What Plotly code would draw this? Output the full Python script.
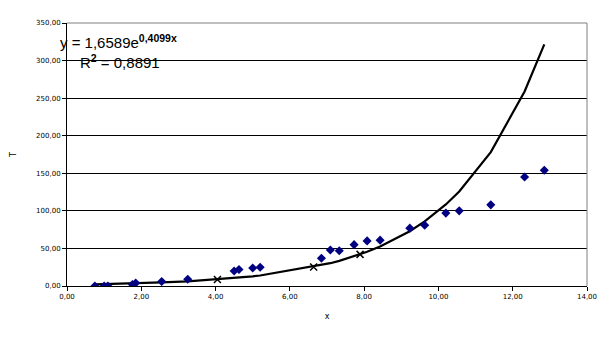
import numpy as np
import plotly.graph_objects as go

# Data
x_vals = [0.75, 1.00, 1.10, 1.76, 1.85, 2.55, 3.25, 4.50, 4.63, 5.00, 5.20,
          6.85, 7.09, 7.33, 7.73, 8.08, 8.43, 9.23, 9.63, 10.20, 10.56, 11.41, 12.32, 12.85]
t_vals = [0.0, 0.0, 0.0, 2.0, 4.0, 6.0, 9.0, 20.0, 22.0, 24.0, 25.0,
          37.0, 48.0, 47.0, 55.0, 60.0, 61.0, 77.0, 81.0, 97.0, 100.0, 108.0, 145.0, 154.0]

# Trendline coefficients (as displayed on the chart)
coef_a = 1.6589
coef_b = 0.4099
r2 = 0.8891
cross_x = [4.05, 6.64, 7.89]

x_ticks = [0, 2, 4, 6, 8, 10, 12, 14]
y_ticks = [0, 50, 100, 150, 200, 250, 300, 350]

xs = np.array(x_vals)
trend_y = coef_a * np.exp(coef_b * xs)
cx = np.array(cross_x)
cross_y = coef_a * np.exp(coef_b * cx)

fig = go.Figure()
fig.add_trace(go.Scatter(x=xs, y=trend_y, mode="lines",
                         line=dict(color="black", width=2.2), showlegend=False))
fig.add_trace(go.Scatter(x=cx, y=cross_y, mode="markers",
                         marker=dict(symbol="x-thin", size=7, line=dict(color="black", width=1.5)),
                         showlegend=False))
fig.add_trace(go.Scatter(x=x_vals, y=t_vals, mode="markers",
                         marker=dict(symbol="diamond", size=7, color="#000080"),
                         showlegend=False))

tick_font = dict(family="DejaVu Sans", size=7, color="black")

eq_text = "y = {}e<sup><b>{}x</b></sup>".format(
    f"{coef_a:.4f}".replace(".", ","), f"{coef_b:.4f}".replace(".", ","))
r2_text = "R<sup><b>2</b></sup> = {}".format(f"{r2:.4f}".replace(".", ","))

fig.update_layout(
    width=613, height=339,
    margin=dict(l=62, r=26, t=23, b=53),
    paper_bgcolor="white", plot_bgcolor="white",
    separators=",.",
    xaxis=dict(range=[0, 14], tickvals=x_ticks, tickformat=".2f",
               showgrid=False, zeroline=False, showline=True, linecolor="black", linewidth=1,
               ticks="outside", ticklen=4, tickcolor="black", tickfont=tick_font,
               title=dict(text="x", font=dict(family="DejaVu Sans", size=8, color="black"), standoff=12)),
    yaxis=dict(range=[0, 350], tickvals=y_ticks, tickformat=".2f",
               showgrid=True, gridcolor="black", gridwidth=1, zeroline=False,
               showline=True, linecolor="black", linewidth=1,
               ticks="outside", ticklen=4, tickcolor="black", tickfont=tick_font,
               title=dict(text="T", font=dict(family="DejaVu Sans", size=8, color="black"), standoff=18)),
    shapes=[
        dict(type="line", xref="paper", yref="paper", x0=1, x1=1, y0=0, y1=1,
             line=dict(color="#808080", width=1)),
        dict(type="line", xref="paper", yref="paper", x0=0, x1=1, y0=1, y1=1,
             line=dict(color="#808080", width=1)),
    ],
    annotations=[
        dict(xref="paper", yref="paper", x=-0.017, y=0.93, xanchor="left", yanchor="middle",
             text=eq_text, showarrow=False,
             font=dict(family="Liberation Sans", size=15, color="black")),
        dict(xref="paper", yref="paper", x=0.021, y=0.855, xanchor="left", yanchor="middle",
             text=r2_text, showarrow=False,
             font=dict(family="Liberation Sans", size=15, color="black")),
    ],
)

fig.write_html("out.html")
